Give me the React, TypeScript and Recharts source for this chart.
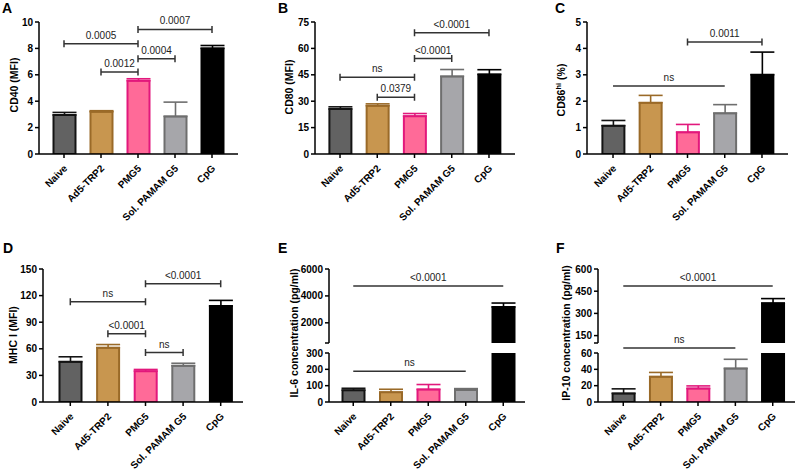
import React from 'react'
import { BarChart, Bar, XAxis, YAxis, ErrorBar, Cell, ReferenceLine } from 'recharts'

const groups = ['Naive', 'Ad5-TRP2', 'PMG5', 'Sol. PAMAM G5', 'CpG']
const fills = ['#626262', '#c8964f', '#ff6a98', '#a6a6aa', '#000000']
const strokes = ['#141414', '#9a6a28', '#e2187c', '#6e6e6e', '#000000']

// mean and SEM per group
const cd40Mean = [2.95, 3.2, 5.55, 2.85, 8.0]
const cd40Sem = [0.2, 0.08, 0.15, 1.08, 0.22]
const cd80Mean = [25.5, 27.4, 21.5, 44.1, 45.2]
const cd80Sem = [1.3, 1.1, 1.5, 3.9, 2.7]
const cd86Mean = [1.07, 1.94, 0.82, 1.54, 3.0]
const cd86Sem = [0.2, 0.28, 0.3, 0.33, 0.86]
const mhcMean = [45.3, 61.2, 34.8, 40.8, 108.2]
const mhcSem = [5.7, 3.6, 1.9, 2.9, 6.4]
const il6Mean = [72, 60, 77, 74, 3170]
const il6Sem = [12, 18, 30, 8, 300]
const ip10Mean = [10.5, 31, 16.5, 41, 368]
const ip10Sem = [5.6, 5.2, 3.2, 11.3, 32]

type Bracket = { from: string; to: string; y: number; label: string; caps: boolean }

const cd40Brackets: Bracket[] = [
    { from: 'Naive', to: 'PMG5', y: 8.36, label: '0.0005', caps: true },
    { from: 'Ad5-TRP2', to: 'PMG5', y: 6.21, label: '0.0012', caps: true },
    { from: 'PMG5', to: 'Sol. PAMAM G5', y: 7.22, label: '0.0004', caps: true },
    { from: 'PMG5', to: 'CpG', y: 9.44, label: '0.0007', caps: true },
]
const cd80Brackets: Bracket[] = [
    { from: 'Naive', to: 'PMG5', y: 43.6, label: 'ns', caps: true },
    { from: 'Ad5-TRP2', to: 'PMG5', y: 32.2, label: '0.0379', caps: true },
    { from: 'PMG5', to: 'Sol. PAMAM G5', y: 54.2, label: '<0.0001', caps: true },
    { from: 'PMG5', to: 'CpG', y: 68.9, label: '<0.0001', caps: true },
]
const cd86Brackets: Bracket[] = [
    { from: 'Naive', to: 'Sol. PAMAM G5', y: 2.58, label: 'ns', caps: false },
    { from: 'PMG5', to: 'CpG', y: 4.24, label: '0.0011', caps: true },
]
const mhcBrackets: Bracket[] = [
    { from: 'Naive', to: 'PMG5', y: 113, label: 'ns', caps: true },
    { from: 'Ad5-TRP2', to: 'PMG5', y: 76.9, label: '<0.0001', caps: true },
    { from: 'PMG5', to: 'Sol. PAMAM G5', y: 55.8, label: 'ns', caps: true },
    { from: 'PMG5', to: 'CpG', y: 133.4, label: '<0.0001', caps: true },
]
const il6TopBrackets: Bracket[] = [{ from: 'Naive', to: 'CpG', y: 4733, label: '<0.0001', caps: false }]
const il6LowBrackets: Bracket[] = [{ from: 'Naive', to: 'Sol. PAMAM G5', y: 189, label: 'ns', caps: false }]
const ip10TopBrackets: Bracket[] = [{ from: 'Naive', to: 'CpG', y: 485, label: '<0.0001', caps: false }]
const ip10LowBrackets: Bracket[] = [{ from: 'Naive', to: 'Sol. PAMAM G5', y: 66, label: 'ns', caps: false }]

const FONT = '"Liberation Sans", Arial, Helvetica, sans-serif'
const YW = 44
const MR = 8
const XH = 80

type Box = { l: number; r: number; t: number; b: number }

function buildRows(mean: number[], sem: number[], lo: number, hi: number) {
    return groups.map((g, i) => {
        const row: any = { group: g, value: mean[i] >= lo ? mean[i] : null }
        if (mean[i] >= lo && mean[i] < hi) row['e' + i] = [0, sem[i]]
        return row
    })
}

function GroupTick(props: any) {
    const { x, y, payload } = props
    const ax = x + 4
    const ay = y + 9
    return (
        <text x={ax} y={ay} transform={`rotate(-45 ${ax} ${ay})`} textAnchor="end" fontSize={10} fontWeight="bold" fill="#000">
            {payload.value}
        </text>
    )
}

function bracketShape(caps: boolean) {
    return (p: any) => {
        const { x1, y1, x2 } = p
        const h = 3.5
        const d = caps
            ? `M${x1},${y1 - h}V${y1 + h}M${x1},${y1}H${x2}M${x2},${y1 - h}V${y1 + h}`
            : `M${x1},${y1}H${x2}`
        return <path d={d} stroke="#333" strokeWidth={1.5} fill="none" />
    }
}

interface PanelProps {
    box: Box
    mean: number[]
    sem: number[]
    domain: [number, number]
    ticks: number[]
    pad: [number, number]
    brackets: Bracket[]
    showX?: boolean
    mt?: number
}

function BarPanel({ box, mean, sem, domain, ticks, pad, brackets, showX = true, mt = 22 }: PanelProps) {
    const rows = buildRows(mean, sem, domain[0], domain[1])
    const width = YW + (box.r - box.l) + MR
    const height = mt + (box.b - box.t) + (showX ? XH : 1)
    return (
        <div style={{ position: 'absolute', left: box.l - YW, top: box.t - mt }}>
            <BarChart width={width} height={height} data={rows} margin={{ top: mt, right: MR, left: 0, bottom: showX ? 0 : 1 }} barCategoryGap={0}>
                <XAxis
                    dataKey="group"
                    hide={!showX}
                    interval={0}
                    height={XH}
                    padding={{ left: pad[0], right: pad[1] }}
                    tick={<GroupTick />}
                    tickSize={4}
                    tickLine={{ stroke: '#000', strokeWidth: 1.5 }}
                    axisLine={{ stroke: '#000', strokeWidth: 1.5 }}
                />
                <YAxis
                    width={YW}
                    type="number"
                    domain={domain}
                    ticks={ticks}
                    allowDataOverflow
                    interval={0}
                    tickFormatter={(v: number) => (!showX && v === domain[0] ? '' : String(v))}
                    tick={{ fill: '#000', fontSize: 10, fontWeight: 'bold' }}
                    tickSize={4}
                    tickMargin={2}
                    tickLine={{ stroke: '#000', strokeWidth: 1.5 }}
                    axisLine={{ stroke: '#000', strokeWidth: 1.5 }}
                />
                <Bar dataKey="value" barSize={22} strokeWidth={2} isAnimationActive={false}>
                    {rows.map((_, i) => (
                        <Cell key={i} fill={fills[i]} stroke={strokes[i]} />
                    ))}
                    {groups.map((_, i) => (
                        <ErrorBar key={'e' + i} dataKey={'e' + i} width={12} strokeWidth={1.6} stroke={strokes[i]} direction="y" />
                    ))}
                </Bar>
                {brackets.map((k, i) => (
                    <ReferenceLine
                        key={i}
                        segment={[{ x: k.from, y: k.y }, { x: k.to, y: k.y }]}
                        ifOverflow="visible"
                        shape={bracketShape(k.caps)}
                        label={{ value: k.label, position: 'top', offset: 5, fontSize: 10, fill: '#222' }}
                    />
                ))}
            </BarChart>
        </div>
    )
}

const panelLetters = [
    { t: 'A', x: 2, y: 13 },
    { t: 'B', x: 278, y: 13 },
    { t: 'C', x: 555, y: 13 },
    { t: 'D', x: 3, y: 253 },
    { t: 'E', x: 278, y: 253 },
    { t: 'F', x: 556, y: 253 },
]

const yTitles = [
    { t: 'CD40 (MFI)', x: 18, y: 85 },
    { t: 'CD80 (MFI)', x: 293, y: 87 },
    { t: 'MHC I (MFI)', x: 17, y: 335 },
    { t: 'IL-6 concentration (pg/ml)', x: 298, y: 333 },
    { t: 'IP-10 concentration (pg/ml)', x: 570, y: 333 },
]

export default function App() {
    return (
        <div style={{ position: 'absolute', left: 0, top: 0, width: 800, height: 470, background: '#fff', fontFamily: FONT, overflow: 'hidden' }}>
            <BarPanel box={{ l: 39, r: 238, t: 22, b: 154 }} mean={cd40Mean} sem={cd40Sem} domain={[0, 10]} ticks={[0, 2, 4, 6, 8, 10]} pad={[6.5, 7.5]} brackets={cd40Brackets} />
            <BarPanel box={{ l: 315, r: 515, t: 22, b: 154 }} mean={cd80Mean} sem={cd80Sem} domain={[0, 75]} ticks={[0, 15, 30, 45, 60, 75]} pad={[6.4, 7.4]} brackets={cd80Brackets} />
            <BarPanel box={{ l: 587, r: 788, t: 22, b: 154 }} mean={cd86Mean} sem={cd86Sem} domain={[0, 5]} ticks={[0, 1, 2, 3, 4, 5]} pad={[7.4, 7.4]} brackets={cd86Brackets} />
            <BarPanel box={{ l: 43, r: 243, t: 269, b: 402 }} mean={mhcMean} sem={mhcSem} domain={[0, 150]} ticks={[0, 30, 60, 90, 120, 150]} pad={[8.5, 3.5]} brackets={mhcBrackets} />
            <BarPanel box={{ l: 329, r: 525, t: 269, b: 343 }} mean={il6Mean} sem={il6Sem} domain={[500, 6000]} ticks={[500, 2000, 4000, 6000]} pad={[5.5, 3]} brackets={il6TopBrackets} showX={false} />
            <BarPanel box={{ l: 329, r: 525, t: 353, b: 402 }} mean={il6Mean} sem={il6Sem} domain={[0, 300]} ticks={[0, 100, 200, 300]} pad={[5.5, 3]} brackets={il6LowBrackets} mt={24} />
            <BarPanel box={{ l: 598, r: 795, t: 269, b: 343 }} mean={ip10Mean} sem={ip10Sem} domain={[100, 600]} ticks={[100, 150, 300, 450, 600]} pad={[6.6, 3.6]} brackets={ip10TopBrackets} showX={false} />
            <BarPanel box={{ l: 598, r: 795, t: 353, b: 402 }} mean={ip10Mean} sem={ip10Sem} domain={[0, 60]} ticks={[0, 20, 40, 60]} pad={[6.6, 3.6]} brackets={ip10LowBrackets} mt={24} />
            <svg width={800} height={470} style={{ position: 'absolute', left: 0, top: 0, pointerEvents: 'none' }}>
                {panelLetters.map((p) => (
                    <text key={p.t} x={p.x} y={p.y} fontSize={14} fontWeight="bold" fill="#000">
                        {p.t}
                    </text>
                ))}
                {yTitles.map((p) => (
                    <text key={p.t} x={p.x} y={p.y} transform={`rotate(-90 ${p.x} ${p.y})`} textAnchor="middle" fontSize={10.5} fontWeight="bold" fill="#000">
                        {p.t}
                    </text>
                ))}
                <text x={565} y={90} transform="rotate(-90 565 90)" textAnchor="middle" fontSize={10.5} fontWeight="bold" fill="#000">
                    CD86<tspan baselineShift="super" fontSize={7.5}>hi</tspan> (%)
                </text>
            </svg>
        </div>
    )
}
